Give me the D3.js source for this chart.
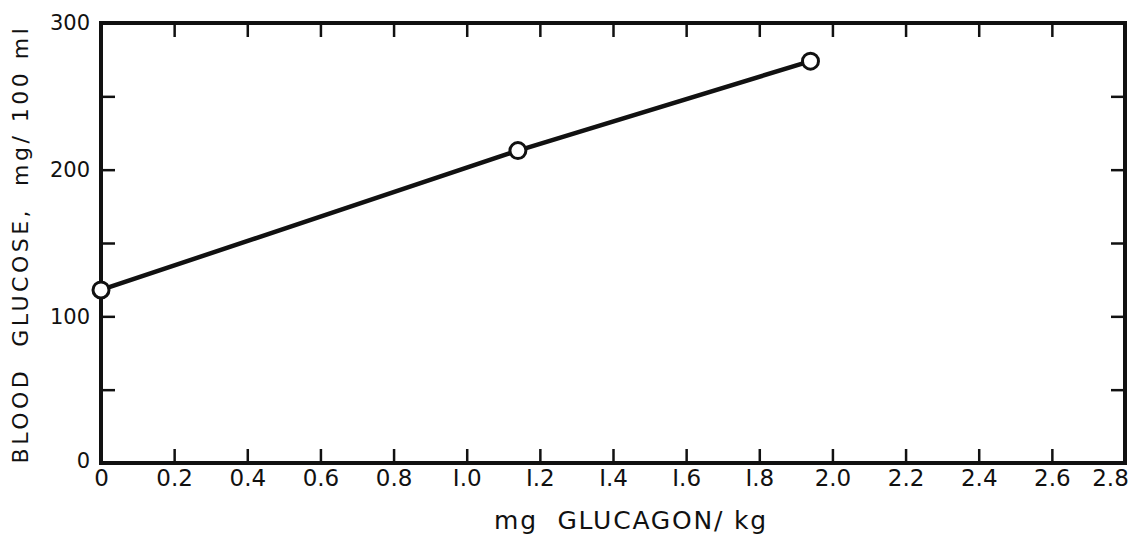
<!DOCTYPE html>
<html>
<head>
<meta charset="utf-8">
<script src="https://cdn.jsdelivr.net/npm/d3@7"></script>
<style>
  body { margin: 0; background: #fff; }
  text { font-family: "DejaVu Sans", sans-serif; fill: #111; }
  .domain { display: none; }
</style>
</head>
<body>
<svg id="chart" width="1131" height="537"></svg>
<script>
// Data.
const dose = [0, 1.14, 1.94]            // mg glucagon / kg
const glucose = [118, 213, 274]         // mg / 100 ml

const xTicks = [0, 0.2, 0.4, 0.6, 0.8, 1.0, 1.2, 1.4, 1.6, 1.8, 2.0, 2.2, 2.4, 2.6, 2.8]
const xTickLabels = ['0', '0.2', '0.4', '0.6', '0.8', 'I.0', 'I.2', 'I.4', 'I.6', 'I.8', '2.0', '2.2', '2.4', '2.6', '2.8']
const yTicks = [50, 100, 150, 200, 250]
const yLabels = [0, 100, 200, 300]

const xTitle = 'mg  GLUCAGON/ kg'
const yTitle = 'BLOOD  GLUCOSE,  mg/ 100 ml'

// Frame.
const margin = { left: 101, top: 23, right: 6, bottom: 74 }
const width = 1131 - margin.left - margin.right,
      height = 537 - margin.top - margin.bottom

const svg = d3.select('#chart')
const g = svg.append('g')
  .attr('transform', 'translate(' + margin.left + ',' + margin.top + ')')

const x = d3.scaleLinear().domain([0, 2.8]).range([0, width])
const y = d3.scaleLinear().domain([0, 300]).range([height, 0])

const tickLen = 14

// Inner ticks on all four sides.
const inner = xTicks.slice(1, -1)
g.append('g')
  .attr('transform', 'translate(0,' + height + ')')
  .call(d3.axisBottom(x).tickValues(inner).tickSize(-tickLen).tickFormat(''))
g.append('g')
  .call(d3.axisTop(x).tickValues(inner).tickSize(-tickLen).tickFormat(''))
g.append('g')
  .call(d3.axisLeft(y).tickValues(yTicks).tickSize(-tickLen).tickFormat(''))
g.append('g')
  .attr('transform', 'translate(' + width + ',0)')
  .call(d3.axisRight(y).tickValues(yTicks).tickSize(-tickLen).tickFormat(''))
g.selectAll('.tick line').attr('stroke', '#111').attr('stroke-width', 2.5)

// Tick labels.
const xLab = g.append('g')
  .attr('transform', 'translate(0,' + height + ')')
  .call(d3.axisBottom(x).tickValues(xTicks).tickSize(0).tickPadding(7)
    .tickFormat(function(d, i) { return xTickLabels[i] }))
xLab.selectAll('text')
  .attr('font-size', 23)
  .attr('dx', function(d, i) { return i === xTicks.length - 1 ? -15 : 0 })

const yLab = g.append('g')
  .call(d3.axisLeft(y).tickValues(yLabels).tickSize(0).tickPadding(11))
yLab.selectAll('text')
  .attr('font-size', 21)
  .attr('dy', function(d) { return d === 0 ? '0.2em' : '0.32em' })

// Box.
g.append('rect')
  .attr('width', width)
  .attr('height', height)
  .attr('fill', 'none')
  .attr('stroke', '#111')
  .attr('stroke-width', 4)

// Line and open circles.
const pts = dose.map(function(d, i) { return [d, glucose[i]] })
g.append('path')
  .datum(pts)
  .attr('d', d3.line().x(function(d) { return x(d[0]) }).y(function(d) { return y(d[1]) }))
  .attr('fill', 'none')
  .attr('stroke', '#111')
  .attr('stroke-width', 4.5)

g.selectAll('circle')
  .data(pts)
  .enter()
  .append('circle')
    .attr('cx', function(d) { return x(d[0]) })
    .attr('cy', function(d) { return y(d[1]) })
    .attr('r', 8)
    .attr('fill', '#fff')
    .attr('stroke', '#111')
    .attr('stroke-width', 3)

// Axis titles.
svg.append('text')
  .attr('x', margin.left + width / 2 + 18)
  .attr('y', 529)
  .attr('text-anchor', 'middle')
  .attr('font-size', 25)
  .attr('letter-spacing', 1.8)
  .style('white-space', 'pre')
  .text(xTitle)

svg.append('text')
  .attr('transform', 'translate(28,244) rotate(-90)')
  .attr('text-anchor', 'middle')
  .attr('font-size', 22)
  .attr('letter-spacing', 3.5)
  .style('white-space', 'pre')
  .text(yTitle)
</script>
</body>
</html>
